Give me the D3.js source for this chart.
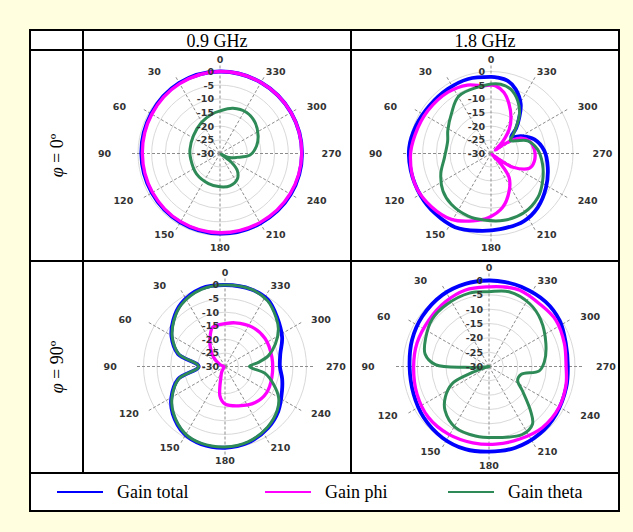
<!DOCTYPE html>
<html><head><meta charset="utf-8">
<script src="https://cdn.jsdelivr.net/npm/d3@7"></script>
<style>body{margin:0;background:#FFFFE0;}</style>
</head><body>
<svg id="chart" width="633" height="532"></svg>
<script>
// ---------- data ----------
const frequencies = ["0.9 GHz", "1.8 GHz"];
const planeAngles = ["0", "90"];
const radialTicks = [0, -5, -10, -15, -20, -25, -30];
const angleTicks = [0, 30, 60, 90, 120, 150, 180, 210, 240, 270, 300, 330];
const seriesNames = ["Gain total", "Gain phi", "Gain theta"];
const seriesColors = ["#0000FF", "#FF00FF", "#2E8B57"];

// [angle (deg, counter-clockwise from top), gain (dB)]
// 0.9 GHz, phi = 0
const tlTotal = [[0,0.3],[30,-0.2],[60,-0.9],[90,-1.2],[120,-1.2],[150,-0.9],[180,-0.7],[210,-0.5],[240,-0.1],[270,0.3],[300,0.4],[330,0.4]];
const tlPhi = [[0,0],[30,-0.5],[60,-1.2],[90,-1.6],[120,-1.5],[150,-1.2],[180,-1.0],[210,-0.8],[240,-0.4],[270,-0.1],[300,0],[330,0.1]];
const tlTheta = [[0,-14.4],[12,-15.3],[31,-16.8],[56,-18.3],[82,-18.9],[101,-19.1],[131,-18.6],[159,-18.2],[180,-17.8],[197,-17.6],[214,-18.7],[225,-21.0],[232,-24.6],[238,-29.5],[243,-27.3],[250,-25.5],[257,-23.7],[267,-19.0],[282,-16.3],[295,-14.6],[311,-12.9],[327,-12.1],[344,-12.8]];
// 1.8 GHz, phi = 0
const trTotal = [[0,-2.0],[17,-1.5],[34,-1.6],[52,-1.5],[70,-0.75],[86,0.3],[102,0.6],[121,0.8],[137,0.4],[154,0.2],[170,-1.3],[187,-2.1],[206,-2.5],[221,-3.9],[238,-6.3],[256,-8.6],[273,-10.5],[288,-13.3],[300,-17.3],[309,-20.5],[315,-17],[322,-13.2],[329,-8.9],[339,-4.8],[347,-2.7],[355,-2.1]];
const trPhi = [[0,-5.0],[6,-5.1],[19,-3.5],[35,-2.6],[56,-2.1],[76,-1.4],[92,-0.5],[114,0.0],[132,-0.8],[149,-1.9],[165,-4.5],[178,-6.6],[192,-9.8],[206,-14.8],[217,-19],[223,-24.6],[229,-29.5],[234,-25.5],[238,-20.5],[249,-15],[260,-13.9],[276,-14.1],[288,-15.2],[297,-17.7],[302,-20.5],[306,-25],[309,-28],[314,-25],[318,-22.3],[323,-18.9],[331,-14.9],[340,-10.7],[348,-7.2],[356,-5.2]];
const trTheta = [[0,-4.6],[29,-5.9],[45,-9.5],[62,-12.1],[74,-13.5],[95,-12.9],[112,-10.2],[128,-7.7],[142,-6.4],[160,-5.6],[174,-5.5],[191,-5.1],[209,-5.2],[227,-6.5],[242,-8.6],[258,-10.7],[275,-12.9],[289,-15.8],[297,-19.8],[304,-21.5],[310,-19.5],[316,-16.8],[324,-12.3],[333,-8.4],[343,-5.4],[352,-4.4]];
// 0.9 GHz, phi = 90
const blTotal = [[0,0.4],[17,0],[35,-1.8],[48,-4.4],[61,-7.5],[75,-12.1],[90,-20.3],[105,-12.1],[120,-7.2],[132,-4.1],[149,-1.0],[163,-0.1],[180,-0.1],[197,-0.7],[215,-2.4],[230,-4.4],[247,-7.2],[258,-8.5],[270,-9.8],[283,-9.1],[297,-6.4],[314,-3.5],[327,-0.8],[341,0.4]];
const blPhi = [[0,-14.2],[10,-14.5],[18,-14.9],[27,-17.9],[37,-21],[51,-24.5],[68,-28],[90,-29.5],[120,-29.5],[150,-27.5],[159,-25.8],[166,-22.1],[170,-19.1],[175,-17.3],[180,-16.2],[199,-14.7],[220,-12.7],[238,-11.9],[257,-12.3],[281,-12.4],[305,-12],[326,-12.4],[347,-13.5]];
const blTheta = [[0,0.1],[17,-0.3],[35,-2.1],[48,-4.7],[61,-7.8],[75,-12.4],[90,-20.3],[105,-12.4],[120,-7.5],[132,-4.4],[149,-1.3],[163,-0.4],[180,-0.4],[197,-1.0],[215,-2.7],[230,-4.9],[240,-7.2],[250,-11],[260,-14.9],[270,-21],[277,-17.6],[284,-13.5],[294,-9.7],[305,-6],[314,-3.9],[327,-1.2],[341,0.0]];
// 1.8 GHz, phi = 90
const brTotal = [[0,0],[16,0.1],[33,-0.2],[53,-0.9],[71,-1.6],[90,-2.3],[110,-2.0],[128,-1.1],[147,-0.3],[164,0],[180,-0.3],[198,-0.2],[217,-0.6],[235,-1.3],[255,-2.1],[270,-2.5],[287,-2.0],[303,-0.6],[319,0.5],[338,0.7],[349,0.3]];
const brPhi = [[0,-2.2],[17,-2.1],[34,-2.8],[52,-3.5],[72,-3.6],[90,-3.7],[111,-3.1],[130,-2.4],[149,-2.5],[168,-2.8],[185,-2.8],[203,-2.5],[221,-1.7],[240,-1.7],[257,-2.4],[270,-3.1],[287,-2.5],[305,-1.6],[321,-1.9],[338,-1.3],[350,-1.8]];
const brTheta = [[0,-3.9],[15,-3.5],[34,-3.8],[50,-4.2],[66,-5.8],[79,-7.3],[88,-11.3],[92,-21.8],[96,-28],[101,-30],[106,-28],[111,-21.2],[115,-15.8],[125,-11.4],[135,-8.3],[151,-5.7],[169,-5.3],[188,-5],[206,-3.6],[217,-4.8],[223,-8.7],[234,-15.6],[244,-18.9],[256,-18.5],[265,-12.4],[275,-10.6],[292,-8.6],[312,-5.7],[327,-3.9],[345,-3]];

// ---------- layout ----------
const svg = d3.select("#chart");
svg.append("rect").attr("width",633).attr("height",532).attr("fill","#FFFFE0");

const tx = [30, 83, 351, 619];           // column edges
const ty = [30, 50, 261, 473, 511];      // row edges
const serif = "'Liberation Serif','Times New Roman',serif";
const sans = "'DejaVu Sans',Verdana,sans-serif";

svg.append("rect").attr("x",tx[0]).attr("y",ty[0]).attr("width",tx[3]-tx[0]).attr("height",ty[4]-ty[0])
  .attr("fill","#fff");

const plots = [
  {series:[tlTotal,tlPhi,tlTheta], cx:220, cy:153.5, R:82},
  {series:[trTotal,trPhi,trTheta], cx:491, cy:153.5, R:82},
  {series:[blTotal,blPhi,blTheta], cx:225, cy:366.5, R:81.5},
  {series:[brTotal,brPhi,brTheta], cx:489, cy:366.5, R:86}
];

const toRad = d => d*Math.PI/180;

plots.forEach(p => {
  const g = svg.append("g").attr("transform",`translate(${p.cx},${p.cy})`);
  const r = d3.scaleLinear().domain([-30,0]).range([0,p.R]).clamp(true);
  // grid circles
  g.selectAll("circle.grid").data(radialTicks.filter(v=>v>-30)).join("circle")
    .attr("r", d=>r(d)).attr("fill","none").attr("stroke","#d9d9d9").attr("stroke-width",1);
  // spokes
  g.selectAll("line.spoke").data(angleTicks).join("line")
    .attr("x1",0).attr("y1",0)
    .attr("x2", d=>-Math.sin(toRad(d))*(p.R+8))
    .attr("y2", d=>-Math.cos(toRad(d))*(p.R+8))
    .attr("stroke","#8c8c8c").attr("stroke-width",1).attr("stroke-dasharray","3,2");
  // series
  const line = d3.lineRadial()
    .angle(d => -toRad(d[0]))
    .radius(d => r(d[1]))
    .curve(d3.curveCatmullRomClosed.alpha(0.5));
  const widths = [3.8, 3.3, 3.0];
  p.series.forEach((s,i) => {
    g.append("path").attr("d", line(s)).attr("fill","none")
      .attr("stroke", seriesColors[i]).attr("stroke-width", widths[i]).attr("stroke-linejoin","round");
  });
  // radial labels
  g.selectAll("text.rad").data(radialTicks).join("text")
    .attr("x",-6).attr("y", d=>-r(d)).attr("dy","0.35em")
    .attr("text-anchor","end").attr("font-family",sans).attr("font-weight","bold")
    .attr("font-size","9.5px").attr("fill","#333").text(d=>d);
  // angle labels
  const Rx = p.R*1.36, Ry = p.R*1.15;
  g.selectAll("text.ang").data(angleTicks).join("text")
    .attr("x", d => { const s=-Math.sin(toRad(d)); let x = s*Rx; if (s < -0.1) x -= (3-String(d).length)*(s > -0.6 ? 10 : 4); return x; })
    .attr("y", d => -Math.cos(toRad(d))*Ry).attr("dy","0.35em")
    .attr("text-anchor","middle").attr("font-family",sans).attr("font-weight","bold")
    .attr("font-size","9.5px").attr("fill","#333").text(d=>d);
});

// header texts
frequencies.forEach((f,i) => {
  svg.append("text").attr("x",(tx[i+1]+tx[i+2])/2).attr("y",(ty[0]+ty[1])/2 + 1).attr("dy","0.35em")
    .attr("text-anchor","middle").attr("font-family",serif).attr("font-size","18px").attr("fill","#000").text(f);
});
// row labels
planeAngles.forEach((a,i) => {
  const cy = (ty[i+1]+ty[i+2])/2, cx = (tx[0]+tx[1])/2;
  const t = svg.append("text").attr("transform",`translate(${cx},${cy}) rotate(-90)`)
    .attr("dy","0.35em").attr("text-anchor","middle").attr("font-family",serif).attr("font-size","18px");
  t.append("tspan").attr("font-style","italic").text("φ");
  t.append("tspan").text(" = " + a + "º");
});

// legend
const legendX = [57, 265, 448];
const ly = (ty[3]+ty[4])/2;
seriesNames.forEach((n,i) => {
  svg.append("line").attr("x1",legendX[i]).attr("x2",legendX[i]+46).attr("y1",ly).attr("y2",ly)
    .attr("stroke",seriesColors[i]).attr("stroke-width",2);
  svg.append("text").attr("x",legendX[i]+60).attr("y",ly).attr("dy","0.35em")
    .attr("font-family",serif).attr("font-size","18px").attr("fill","#000").text(n);
});

// table lines
const tl = svg.append("g").attr("stroke","#000").attr("stroke-width",2);
tl.append("rect").attr("x",tx[0]).attr("y",ty[0]).attr("width",tx[3]-tx[0]).attr("height",ty[4]-ty[0]).attr("fill","none");
[ty[1],ty[2],ty[3]].forEach(y => tl.append("line").attr("x1",tx[0]).attr("x2",tx[3]).attr("y1",y).attr("y2",y));
[tx[1],tx[2]].forEach(x => tl.append("line").attr("x1",x).attr("x2",x).attr("y1",ty[0]).attr("y2",ty[3]));
</script>
</body></html>
